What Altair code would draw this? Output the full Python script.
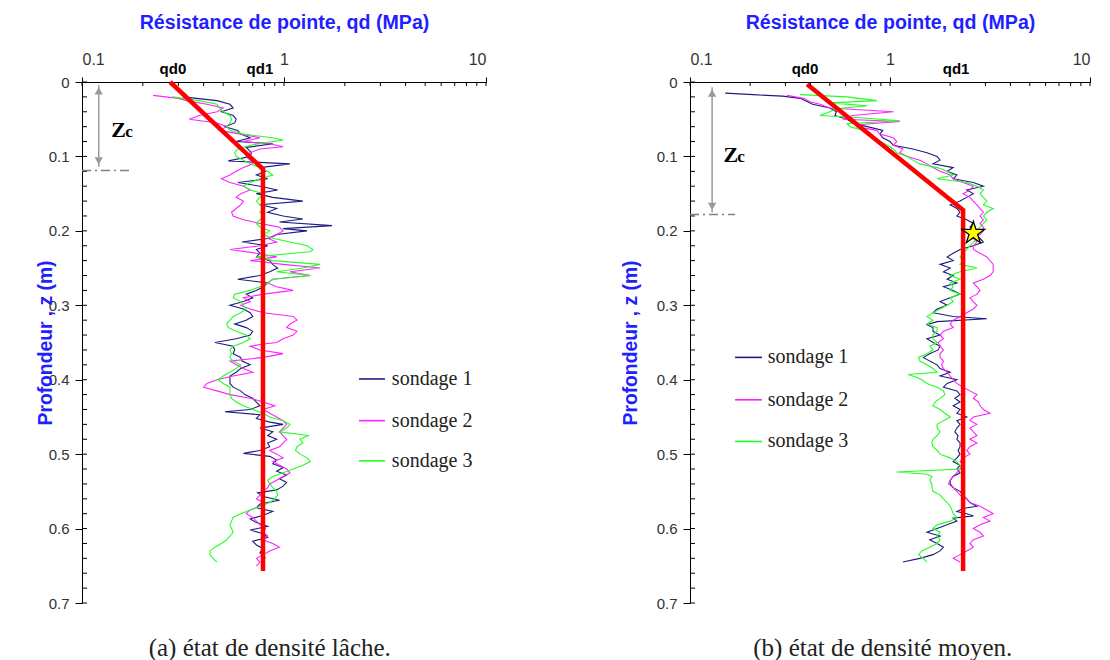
import altair as alt
import pandas as pd

SERIES = ["sondage 1", "sondage 2", "sondage 3"]
COLORS = ["#1c1c80", "#ff22ff", "#22ff22"]

# ---------------- panel (a) : (depth z [m], qd [MPa]) ----------------
A1 = [(0.020, 0.316), (0.025, 0.466), (0.030, 0.54), (0.035, 0.56), (0.040, 0.49), (0.045, 0.56),
      (0.050, 0.58), (0.055, 0.57), (0.060, 0.51), (0.065, 0.59), (0.070, 0.61), (0.075, 0.68),
      (0.080, 0.58), (0.083, 0.88), (0.088, 0.65), (0.095, 0.69), (0.100, 0.68), (0.106, 0.53),
      (0.110, 1.07), (0.115, 0.76), (0.120, 0.81), (0.125, 0.73), (0.130, 0.83), (0.135, 0.59),
      (0.140, 0.76), (0.145, 0.93), (0.150, 0.73), (0.155, 0.88), (0.160, 1.24), (0.165, 0.76),
      (0.170, 0.92), (0.175, 0.83), (0.180, 0.99), (0.184, 1.24), (0.188, 0.95), (0.193, 1.73),
      (0.197, 0.99), (0.200, 1.30), (0.205, 0.92), (0.210, 0.85), (0.215, 0.62), (0.220, 0.83),
      (0.225, 0.73), (0.230, 0.76), (0.235, 0.73), (0.240, 0.85), (0.245, 0.88), (0.250, 0.93),
      (0.255, 0.85), (0.260, 0.76), (0.265, 0.59), (0.270, 0.83), (0.275, 0.79), (0.280, 0.73),
      (0.285, 0.65), (0.290, 0.70), (0.295, 0.63), (0.300, 0.54), (0.305, 0.63), (0.310, 0.68),
      (0.315, 0.70), (0.320, 0.65), (0.325, 0.57), (0.330, 0.65), (0.335, 0.70), (0.340, 0.68),
      (0.345, 0.58), (0.350, 0.455), (0.355, 0.56), (0.360, 0.57), (0.365, 0.56), (0.370, 0.61),
      (0.375, 0.62), (0.380, 0.68), (0.385, 0.61), (0.390, 0.58), (0.395, 0.54), (0.400, 0.54),
      (0.405, 0.54), (0.410, 0.56), (0.415, 0.61), (0.420, 0.64), (0.425, 0.70), (0.430, 0.73),
      (0.435, 0.76), (0.440, 0.68), (0.443, 0.51), (0.447, 0.76), (0.452, 0.73), (0.457, 0.85),
      (0.460, 0.99), (0.465, 0.76), (0.470, 0.88), (0.475, 0.83), (0.480, 0.92), (0.485, 0.83),
      (0.490, 0.85), (0.495, 0.76), (0.499, 0.63), (0.503, 0.85), (0.508, 0.92), (0.513, 0.88),
      (0.518, 0.99), (0.523, 0.92), (0.528, 1.03), (0.533, 0.95), (0.538, 1.03), (0.543, 0.99),
      (0.548, 0.92), (0.552, 0.74), (0.557, 0.79), (0.562, 0.95), (0.567, 0.76), (0.572, 0.73),
      (0.577, 0.88), (0.582, 0.79), (0.587, 0.68), (0.592, 0.73), (0.597, 0.83), (0.602, 0.68),
      (0.607, 0.79), (0.612, 0.83), (0.617, 0.70), (0.622, 0.73), (0.627, 0.79), (0.632, 0.76),
      (0.637, 0.79), (0.640, 0.81)]

A2 = [(0.018, 0.225), (0.022, 0.30), (0.025, 0.33), (0.030, 0.415), (0.035, 0.50), (0.040, 0.466),
      (0.045, 0.38), (0.050, 0.34), (0.055, 0.466), (0.060, 0.52), (0.065, 0.48), (0.070, 0.61),
      (0.075, 0.76), (0.080, 0.63), (0.083, 0.85), (0.087, 0.99), (0.090, 0.76), (0.095, 0.68),
      (0.100, 0.65), (0.105, 0.68), (0.110, 0.70), (0.115, 0.63), (0.120, 0.58), (0.125, 0.54),
      (0.130, 0.49), (0.135, 0.54), (0.140, 0.63), (0.145, 0.68), (0.150, 0.61), (0.155, 0.58),
      (0.160, 0.63), (0.165, 0.61), (0.170, 0.58), (0.175, 0.55), (0.180, 0.56), (0.185, 0.63),
      (0.190, 0.76), (0.195, 0.95), (0.200, 0.99), (0.205, 0.92), (0.210, 0.83), (0.215, 0.92),
      (0.220, 0.76), (0.225, 0.54), (0.230, 0.73), (0.235, 0.92), (0.240, 0.68), (0.245, 0.99),
      (0.250, 1.51), (0.255, 1.07), (0.260, 1.35), (0.265, 0.88), (0.270, 0.83), (0.275, 0.92),
      (0.280, 1.11), (0.285, 0.79), (0.290, 0.63), (0.295, 0.68), (0.300, 0.61), (0.305, 0.68),
      (0.310, 0.79), (0.315, 1.11), (0.320, 1.16), (0.325, 1.07), (0.330, 1.03), (0.335, 1.16),
      (0.340, 1.11), (0.345, 0.99), (0.350, 0.92), (0.352, 0.79), (0.355, 0.68), (0.360, 0.76),
      (0.365, 0.99), (0.370, 0.79), (0.375, 0.54), (0.380, 0.58), (0.385, 0.63), (0.390, 0.70),
      (0.395, 0.56), (0.400, 0.466), (0.405, 0.415), (0.410, 0.40), (0.415, 0.466), (0.420, 0.54),
      (0.425, 0.68), (0.430, 0.79), (0.435, 0.90), (0.440, 0.79), (0.445, 0.85), (0.450, 0.92),
      (0.455, 0.99), (0.460, 1.03), (0.465, 0.99), (0.470, 0.95), (0.475, 0.99), (0.480, 1.03),
      (0.485, 0.99), (0.490, 0.95), (0.495, 0.85), (0.500, 0.92), (0.505, 0.99), (0.510, 0.88),
      (0.515, 0.95), (0.520, 1.03), (0.525, 1.07), (0.530, 0.99), (0.535, 0.92), (0.540, 0.85),
      (0.545, 0.83), (0.550, 0.79), (0.555, 0.76), (0.560, 0.73), (0.565, 0.79), (0.570, 0.76),
      (0.575, 0.68), (0.580, 0.65), (0.585, 0.70), (0.590, 0.73), (0.595, 0.76), (0.600, 0.81),
      (0.605, 0.79), (0.610, 0.83), (0.615, 0.78), (0.620, 0.88), (0.625, 0.95), (0.630, 0.85),
      (0.635, 0.79), (0.640, 0.73), (0.645, 0.76), (0.650, 0.73)]

A3 = [(0.020, 0.28), (0.025, 0.38), (0.030, 0.466), (0.035, 0.48), (0.040, 0.50), (0.045, 0.54),
      (0.050, 0.55), (0.055, 0.54), (0.060, 0.52), (0.065, 0.54), (0.070, 0.63), (0.075, 0.88),
      (0.078, 0.99), (0.082, 0.79), (0.085, 0.68), (0.090, 0.59), (0.095, 0.57), (0.100, 0.58),
      (0.105, 0.63), (0.110, 0.68), (0.115, 0.76), (0.120, 0.83), (0.125, 0.88), (0.130, 0.76),
      (0.135, 0.68), (0.140, 0.63), (0.145, 0.68), (0.150, 0.79), (0.155, 0.76), (0.160, 0.73),
      (0.165, 0.76), (0.170, 0.79), (0.175, 0.76), (0.180, 0.79), (0.185, 0.76), (0.190, 0.73),
      (0.195, 0.76), (0.200, 0.85), (0.205, 0.79), (0.210, 0.88), (0.215, 1.07), (0.220, 1.30),
      (0.225, 1.39), (0.228, 1.35), (0.230, 1.11), (0.235, 0.73), (0.240, 0.88), (0.245, 1.51),
      (0.250, 1.24), (0.255, 0.92), (0.260, 1.35), (0.265, 0.88), (0.270, 0.83), (0.275, 0.76),
      (0.280, 0.68), (0.285, 0.57), (0.290, 0.56), (0.295, 0.61), (0.300, 0.63), (0.305, 0.65),
      (0.310, 0.61), (0.315, 0.56), (0.320, 0.54), (0.325, 0.52), (0.330, 0.53), (0.335, 0.58),
      (0.340, 0.65), (0.345, 0.68), (0.350, 0.63), (0.355, 0.56), (0.360, 0.54), (0.365, 0.55),
      (0.370, 0.54), (0.375, 0.56), (0.380, 0.61), (0.385, 0.58), (0.390, 0.54), (0.395, 0.50),
      (0.400, 0.47), (0.405, 0.50), (0.410, 0.54), (0.415, 0.54), (0.420, 0.54), (0.425, 0.55),
      (0.430, 0.58), (0.435, 0.63), (0.440, 0.70), (0.445, 0.79), (0.450, 0.85), (0.455, 0.99),
      (0.460, 1.07), (0.465, 1.03), (0.470, 0.95), (0.475, 1.32), (0.480, 1.20), (0.485, 1.24),
      (0.490, 1.16), (0.495, 1.14), (0.500, 1.20), (0.505, 1.30), (0.510, 1.35), (0.515, 1.24),
      (0.520, 1.11), (0.525, 0.99), (0.530, 0.88), (0.535, 0.83), (0.540, 0.85), (0.545, 0.88),
      (0.550, 0.92), (0.555, 0.93), (0.560, 0.90), (0.565, 0.85), (0.570, 0.76), (0.575, 0.68),
      (0.580, 0.61), (0.585, 0.56), (0.590, 0.55), (0.595, 0.54), (0.600, 0.55), (0.605, 0.56),
      (0.610, 0.54), (0.615, 0.52), (0.620, 0.49), (0.625, 0.455), (0.630, 0.43), (0.635, 0.43),
      (0.640, 0.445), (0.645, 0.466)]

# ---------------- panel (b) ----------------
B1 = [(0.015, 0.15), (0.017, 0.207), (0.019, 0.29), (0.022, 0.355), (0.027, 0.39), (0.030, 0.41),
      (0.035, 0.50), (0.040, 0.54), (0.045, 0.53), (0.050, 0.61), (0.055, 0.65), (0.060, 0.77),
      (0.065, 0.92), (0.070, 0.89), (0.075, 0.92), (0.080, 1.00), (0.085, 1.04), (0.090, 1.30),
      (0.095, 1.53), (0.100, 1.72), (0.105, 1.78), (0.110, 1.64), (0.115, 2.07), (0.120, 1.93),
      (0.125, 2.16), (0.130, 2.07), (0.135, 2.61), (0.140, 2.93), (0.145, 2.42), (0.150, 2.61),
      (0.155, 2.42), (0.160, 2.24), (0.165, 2.00), (0.170, 2.16), (0.175, 2.24), (0.180, 2.16),
      (0.185, 2.42), (0.190, 2.61), (0.195, 2.51), (0.200, 2.82), (0.205, 2.61), (0.210, 2.82),
      (0.215, 2.93), (0.220, 2.61), (0.225, 2.24), (0.230, 2.07), (0.235, 1.93), (0.240, 2.07),
      (0.245, 1.78), (0.250, 2.00), (0.255, 1.85), (0.260, 2.07), (0.265, 1.93), (0.270, 2.16),
      (0.275, 1.85), (0.280, 2.07), (0.285, 2.24), (0.290, 2.00), (0.295, 1.78), (0.300, 1.93),
      (0.305, 1.72), (0.310, 1.64), (0.315, 2.07), (0.318, 3.05), (0.322, 1.72), (0.326, 1.53),
      (0.330, 1.64), (0.335, 1.64), (0.340, 1.78), (0.345, 1.53), (0.350, 1.64), (0.355, 1.78),
      (0.360, 1.74), (0.365, 1.58), (0.370, 1.47), (0.375, 1.58), (0.380, 1.72), (0.385, 1.78),
      (0.390, 2.00), (0.395, 1.78), (0.400, 2.16), (0.405, 1.93), (0.410, 1.85), (0.415, 2.16),
      (0.420, 2.24), (0.425, 2.11), (0.430, 2.24), (0.435, 2.07), (0.440, 2.24), (0.445, 2.16),
      (0.450, 2.42), (0.455, 2.16), (0.460, 2.24), (0.465, 2.16), (0.470, 2.11), (0.475, 2.19),
      (0.480, 2.16), (0.485, 2.24), (0.490, 2.24), (0.495, 2.19), (0.500, 2.24), (0.505, 2.16),
      (0.510, 2.07), (0.515, 2.24), (0.520, 2.16), (0.525, 2.24), (0.530, 2.07), (0.535, 2.00),
      (0.540, 2.00), (0.545, 2.07), (0.550, 2.24), (0.555, 2.32), (0.560, 2.42), (0.565, 2.51),
      (0.570, 2.72), (0.573, 2.32), (0.577, 2.16), (0.580, 2.42), (0.583, 2.61), (0.586, 2.07),
      (0.590, 2.16), (0.595, 1.93), (0.600, 1.72), (0.605, 1.53), (0.610, 1.78), (0.615, 1.58),
      (0.620, 1.72), (0.625, 1.85), (0.630, 1.78), (0.635, 1.64), (0.640, 1.41), (0.645, 1.16)]

B2 = [(0.018, 0.305), (0.022, 0.37), (0.027, 0.40), (0.030, 0.447), (0.035, 0.50), (0.040, 1.04),
      (0.045, 0.65), (0.050, 0.58), (0.053, 1.12), (0.057, 0.71), (0.060, 0.68), (0.065, 0.86),
      (0.070, 0.89), (0.075, 1.04), (0.080, 1.08), (0.085, 1.04), (0.090, 1.16), (0.095, 1.12),
      (0.100, 1.22), (0.105, 1.41), (0.110, 1.53), (0.115, 1.64), (0.120, 1.78), (0.125, 2.00),
      (0.130, 2.07), (0.135, 2.32), (0.140, 2.61), (0.145, 2.51), (0.150, 2.32), (0.155, 2.51),
      (0.160, 2.61), (0.165, 2.72), (0.170, 2.82), (0.175, 2.93), (0.180, 2.82), (0.185, 2.93),
      (0.190, 2.82), (0.195, 2.93), (0.200, 2.93), (0.205, 2.82), (0.210, 2.61), (0.215, 2.72),
      (0.220, 2.61), (0.225, 2.61), (0.230, 2.82), (0.235, 3.05), (0.240, 3.16), (0.245, 3.28),
      (0.250, 3.28), (0.255, 3.28), (0.260, 3.16), (0.265, 2.93), (0.270, 2.61), (0.275, 2.72),
      (0.280, 2.82), (0.285, 2.72), (0.290, 2.51), (0.295, 2.61), (0.300, 2.72), (0.305, 2.61),
      (0.310, 2.42), (0.315, 2.24), (0.320, 2.07), (0.325, 2.00), (0.330, 2.07), (0.335, 1.85),
      (0.340, 1.78), (0.345, 1.85), (0.350, 1.74), (0.355, 1.78), (0.360, 1.85), (0.365, 1.78),
      (0.370, 1.78), (0.375, 1.85), (0.380, 1.81), (0.385, 1.85), (0.390, 1.93), (0.395, 2.00),
      (0.400, 2.07), (0.405, 2.16), (0.410, 2.32), (0.415, 2.51), (0.420, 2.72), (0.425, 2.61),
      (0.430, 2.77), (0.435, 2.82), (0.440, 2.93), (0.445, 3.16), (0.450, 2.61), (0.455, 2.51),
      (0.460, 2.72), (0.465, 2.51), (0.470, 2.61), (0.475, 2.72), (0.480, 2.51), (0.485, 2.72),
      (0.490, 2.51), (0.495, 2.42), (0.500, 2.51), (0.505, 2.32), (0.510, 2.24), (0.515, 2.32),
      (0.520, 2.24), (0.525, 2.16), (0.530, 2.07), (0.535, 2.00), (0.540, 1.96), (0.545, 2.07),
      (0.550, 2.16), (0.555, 2.24), (0.560, 2.42), (0.565, 2.51), (0.570, 2.82), (0.575, 3.05),
      (0.580, 3.28), (0.585, 2.93), (0.590, 3.16), (0.595, 2.82), (0.600, 2.61), (0.605, 2.82),
      (0.610, 2.93), (0.615, 2.61), (0.620, 2.51), (0.625, 2.61), (0.630, 2.42), (0.635, 2.24),
      (0.640, 2.07), (0.645, 2.24)]

B3 = [(0.017, 0.355), (0.020, 0.61), (0.025, 0.86), (0.028, 0.50), (0.032, 0.77), (0.036, 0.54),
      (0.040, 0.50), (0.045, 0.447), (0.048, 0.71), (0.052, 1.12), (0.056, 0.61), (0.060, 0.63),
      (0.065, 0.74), (0.070, 0.77), (0.075, 0.83), (0.080, 0.89), (0.085, 0.97), (0.090, 1.04),
      (0.095, 1.08), (0.100, 1.22), (0.105, 1.30), (0.110, 1.41), (0.115, 1.72), (0.120, 1.93),
      (0.125, 2.07), (0.130, 1.72), (0.135, 2.42), (0.140, 2.72), (0.145, 2.93), (0.150, 2.82),
      (0.155, 2.93), (0.160, 3.05), (0.165, 2.93), (0.170, 3.28), (0.175, 3.05), (0.180, 2.93),
      (0.185, 3.05), (0.190, 2.93), (0.195, 2.82), (0.200, 2.72), (0.205, 2.61), (0.210, 2.72),
      (0.215, 2.61), (0.220, 2.51), (0.225, 2.42), (0.230, 2.32), (0.235, 2.24), (0.240, 2.32),
      (0.245, 2.24), (0.250, 2.72), (0.255, 2.24), (0.260, 2.00), (0.265, 2.24), (0.270, 2.00),
      (0.275, 2.07), (0.280, 2.00), (0.285, 2.24), (0.290, 2.00), (0.295, 2.07), (0.300, 1.93),
      (0.305, 1.78), (0.310, 1.64), (0.315, 1.53), (0.320, 1.64), (0.325, 1.53), (0.330, 1.72),
      (0.335, 1.72), (0.340, 1.64), (0.345, 1.64), (0.350, 1.72), (0.355, 1.58), (0.360, 1.64),
      (0.365, 1.53), (0.370, 1.39), (0.375, 1.41), (0.380, 1.53), (0.385, 1.64), (0.390, 1.72),
      (0.393, 1.23), (0.397, 1.37), (0.400, 1.44), (0.405, 1.53), (0.410, 1.72), (0.415, 1.85),
      (0.420, 1.88), (0.425, 1.78), (0.430, 1.68), (0.435, 1.64), (0.440, 1.78), (0.445, 1.88),
      (0.450, 2.00), (0.455, 1.85), (0.460, 1.72), (0.465, 1.72), (0.470, 1.78), (0.475, 1.72),
      (0.480, 1.64), (0.485, 1.62), (0.490, 1.64), (0.495, 1.72), (0.500, 1.78), (0.505, 2.00),
      (0.510, 2.16), (0.515, 2.24), (0.520, 2.29), (0.524, 1.08), (0.527, 1.53), (0.530, 1.62),
      (0.535, 1.58), (0.540, 1.62), (0.545, 1.62), (0.550, 1.64), (0.555, 1.78), (0.560, 1.85),
      (0.565, 1.93), (0.570, 2.00), (0.575, 2.04), (0.580, 2.07), (0.585, 2.16), (0.590, 2.00),
      (0.595, 1.72), (0.600, 1.64), (0.605, 1.78), (0.610, 1.72), (0.615, 1.78), (0.620, 1.72),
      (0.625, 1.58), (0.630, 1.44), (0.635, 1.39), (0.640, 1.47), (0.645, 1.53)]

# idealised profiles (red), annotations
A_RED = [(0.000, 0.273), (0.117, 0.787), (0.657, 0.787)]
B_RED = [(0.003, 0.385), (0.172, 2.32), (0.657, 2.32)]
B_STAR = [(0.203, 2.61)]
A_QD = [("qd0", 0.282), ("qd1", 0.76)]
B_QD = [("qd0", 0.376), ("qd1", 2.14)]
A_ZC = dict(q=0.121, top=0.004, bot=0.114, lev=0.119, qend=0.173, qZ=0.1516, qc=0.171, zt=0.074)
B_ZC = dict(q=0.129, top=0.007, bot=0.175, lev=0.178, qend=0.168, qZ=0.160, qc=0.180, zt=0.108)
A_LEG = dict(q0=2.35, q1=3.16, qt=3.42, z=[0.399, 0.455, 0.509])
B_LEG = dict(q0=0.168, q1=0.229, qt=0.245, z=[0.370, 0.427, 0.483])
CAPTIONS = ["(a) état de densité lâche.", "(b) état de densité moyen."]
CAP_Q = [0.85, 0.92]

X_TICKS = [0.1, 0.2, 0.3, 0.4, 0.5, 0.6, 0.7, 0.8, 0.9, 1, 2, 3, 4, 5, 6, 7, 8, 9, 10]
Y_TICKS = [0, 0.02, 0.04, 0.06, 0.08, 0.1, 0.12, 0.14, 0.16, 0.18, 0.2, 0.22, 0.24, 0.26, 0.28,
           0.3, 0.32, 0.34, 0.36, 0.38, 0.4, 0.42, 0.44, 0.46, 0.48, 0.5, 0.52, 0.54, 0.56, 0.58,
           0.6, 0.62, 0.64, 0.66, 0.68, 0.7]
Y_LABELS = [0, 0.1, 0.2, 0.3, 0.4, 0.5, 0.6, 0.7]

STAR_PATH = ("M0,-1L0.2245,-0.309L0.951,-0.309L0.363,0.118L0.588,0.809L0,0.382"
             "L-0.588,0.809L-0.363,0.118L-0.951,-0.309L-0.2245,-0.309Z")

BLUE = "#1f1fff"
SANS = "Liberation Sans"
SERIF = "Liberation Serif"
W = 1008
H = 521
Z_QD = -0.0107      # depth-equivalent just above the top axis line
Z_CAP = 0.7605      # depth-equivalent of the caption line below the panel
Z_TICK = 0.0054     # inner tick length, in depth units
Q_TICK = 1.059      # inner tick length, as a factor on q


def panel(curves, red, qd, zc, leg, xrange, caption, cap_q, ytitle_x, yoffset, star=None):
    xs = alt.Scale(type="log", domain=[0.1, 10], range=xrange)
    ys = alt.Scale(domain=[0, 0.7], reverse=True, nice=False)

    xaxis = alt.Axis(orient="top", values=[0.1, 1, 10], format="~g", grid=False,
                     title="Résistance de pointe, qd (MPa)", titleColor=BLUE, titleFont=SANS,
                     titleFontSize=19.6, titleFontWeight="bold", titleY=-54,
                     titleBaseline="alphabetic",
                     labelFont=SANS, labelFontSize=16, labelColor="#333", labelPadding=10,
                     tickSize=5, tickColor="black", domainColor="black")
    yaxis = alt.Axis(orient="left", offset=yoffset, values=Y_LABELS, format="~g", grid=False,
                     title="Profondeur , z (m)", titleColor=BLUE, titleFont=SANS,
                     titleFontSize=19.3, titleFontWeight="bold", titleX=ytitle_x,
                     titleBaseline="middle",
                     labelFont=SANS, labelFontSize=15, labelColor="#333", labelPadding=6,
                     tickSize=7, tickColor="black", domainColor="black")

    layers = []
    for k, (name, pts) in enumerate(zip(SERIES, curves)):
        d = pd.DataFrame([{"z": z, "q": q, "i": i} for i, (z, q) in enumerate(pts)])
        if k == 0:
            enc = dict(x=alt.X("q:Q", scale=xs, axis=xaxis), y=alt.Y("z:Q", scale=ys, axis=yaxis))
        else:
            enc = dict(x="q:Q", y="z:Q")
        layers.append(alt.Chart(d).mark_line(color=COLORS[k], strokeWidth=1.1).encode(
            order="i:Q", **enc))

    red_df = pd.DataFrame([{"z": z, "q": q, "i": i} for i, (z, q) in enumerate(red)])
    layers.append(alt.Chart(red_df).mark_line(color="#ff0000", strokeWidth=4.5).encode(
        x="q:Q", y="z:Q", order="i:Q"))

    layers.append(alt.Chart(pd.DataFrame({"q": X_TICKS, "z": 0.0, "z2": Z_TICK})).mark_rule(
        color="black", strokeWidth=1).encode(x="q:Q", y="z:Q", y2="z2:Q"))
    layers.append(alt.Chart(pd.DataFrame({"z": Y_TICKS, "q": 0.1, "q2": 0.1 * Q_TICK})).mark_rule(
        color="black", strokeWidth=1).encode(y="z:Q", x="q:Q", x2="q2:Q"))

    qd_df = pd.DataFrame([{"t": t, "q": q, "z": Z_QD} for t, q in qd])
    layers.append(alt.Chart(qd_df).mark_text(font=SANS, fontSize=15, fontWeight="bold",
                                             color="black", baseline="alphabetic").encode(
        x="q:Q", y="z:Q", text="t:N"))

    arr_df = pd.DataFrame([{"q": zc["q"], "z": zc["top"], "z2": zc["bot"]}])
    layers.append(alt.Chart(arr_df).mark_rule(color="#9a9a9a", strokeWidth=1.5).encode(
        x="q:Q", y="z:Q", y2="z2:Q"))
    layers.append(alt.Chart(pd.DataFrame([{"q": zc["q"], "z": zc["top"] + 0.008}])).mark_point(
        shape="triangle-up", filled=True, color="#9a9a9a", size=70, opacity=1).encode(
        x="q:Q", y="z:Q"))
    layers.append(alt.Chart(pd.DataFrame([{"q": zc["q"], "z": zc["bot"] - 0.008}])).mark_point(
        shape="triangle-down", filled=True, color="#9a9a9a", size=70, opacity=1).encode(
        x="q:Q", y="z:Q"))
    layers.append(alt.Chart(pd.DataFrame([{"q": 0.1, "q2": zc["qend"], "z": zc["lev"]}])).mark_rule(
        color="#808080", strokeWidth=1.4, strokeDash=[9, 4, 2, 4]).encode(
        x="q:Q", x2="q2:Q", y="z:Q"))
    layers.append(alt.Chart(pd.DataFrame([{"q": zc["qZ"], "z": zc["zt"], "t": "Z"}])).mark_text(
        font=SERIF, fontSize=22, fontWeight="bold", color="black", baseline="alphabetic").encode(
        x="q:Q", y="z:Q", text="t:N"))
    layers.append(alt.Chart(pd.DataFrame([{"q": zc["qc"], "z": zc["zt"], "t": "c"}])).mark_text(
        font=SERIF, fontSize=17, fontWeight="bold", color="black", baseline="alphabetic").encode(
        x="q:Q", y="z:Q", text="t:N"))

    for k, (s, z) in enumerate(zip(SERIES, leg["z"])):
        ld = pd.DataFrame([{"serie": s, "q": leg["q0"], "q2": leg["q1"], "qt": leg["qt"], "z": z}])
        layers.append(alt.Chart(ld).mark_rule(color=COLORS[k], strokeWidth=1.6).encode(
            x="q:Q", x2="q2:Q", y="z:Q"))
        layers.append(alt.Chart(ld).mark_text(font=SERIF, fontSize=20, color="#222",
                                              align="left", baseline="middle").encode(
            x="qt:Q", y="z:Q", text="serie:N"))

    layers.append(alt.Chart(pd.DataFrame([{"q": cap_q, "z": Z_CAP, "t": caption}])).mark_text(
        font=SERIF, fontSize=25, color="#222", baseline="middle").encode(
        x="q:Q", y="z:Q", text="t:N"))

    if star is not None:
        layers.append(alt.Chart(pd.DataFrame([{"z": z, "q": q} for z, q in star])).mark_point(
            shape=STAR_PATH, filled=True, fill="#ffff00", stroke="black", strokeWidth=1.3,
            size=560, opacity=1).encode(x="q:Q", y="z:Q"))
    return alt.layer(*layers)


pa = panel([A1, A2, A3], A_RED, A_QD, A_ZC, A_LEG, [0, 404], CAPTIONS[0], CAP_Q[0], -37, 0)
pb = panel([B1, B2, B3], B_RED, B_QD, B_ZC, B_LEG, [608, 1008], CAPTIONS[1], CAP_Q[1], -60, -608,
           star=B_STAR)

chart = alt.layer(pa, pb).resolve_scale(x="independent", y="independent").properties(
    width=W, height=H,
    autosize=alt.AutoSizeParams(type="none"),
    padding={"left": 74, "top": 74, "right": 10, "bottom": 58},
).configure_view(stroke=None)

chart.save("out.html", embed_options={"renderer": "svg", "actions": False})
